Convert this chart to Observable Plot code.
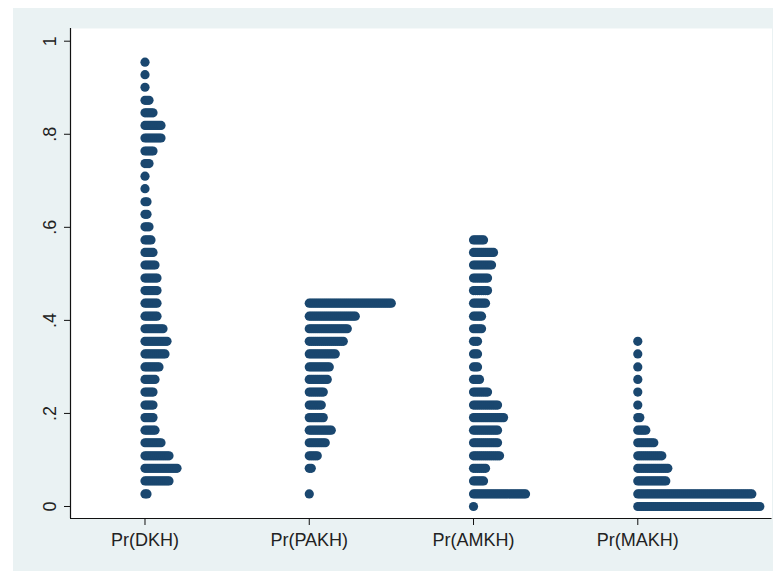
<!DOCTYPE html>
<html><head><meta charset="utf-8">
<script src="https://cdn.jsdelivr.net/npm/d3@7"></script>
<script src="https://cdn.jsdelivr.net/npm/@observablehq/plot@0.6"></script>
<style>
html,body{margin:0;padding:0;background:#fff;}
#wrap{position:absolute;left:13px;top:8px;width:760px;height:563px;background:#eaf2f3;}
</style></head><body><div id="wrap"></div>
<script>
const categories = ["Pr(DKH)", "Pr(PAKH)", "Pr(AMKH)", "Pr(MAKH)"];
const yTicks = [0, 0.2, 0.4, 0.6, 0.8, 1];
const yTickLabels = ["0", ".2", ".4", ".6", ".8", "1"];

// bin values (probability) and number of observations in each bin
const dkhValues = [0.027,0.055,0.082,0.109,0.137,0.164,0.191,0.218,0.246,0.273,0.300,0.328,0.355,0.382,0.409,0.437,0.464,0.491,0.519,0.546,0.573,0.601,0.628,0.655,0.683,0.710,0.737,0.764,0.792,0.819,0.846,0.873,0.901,0.928,0.955];
const dkhCounts = [2,13,17,13,9,6,5,5,5,6,8,11,12,10,7,7,7,7,6,5,4,3,2,2,1,1,3,5,9,9,5,3,1,1,1];

const pakhValues = [0.027,0.082,0.109,0.137,0.164,0.191,0.218,0.246,0.273,0.300,0.328,0.355,0.382,0.409,0.437];
const pakhCounts = [1,2,5,9,12,8,7,8,10,11,14,18,20,24,42];

const amkhValues = [0.000,0.027,0.055,0.082,0.109,0.137,0.164,0.191,0.218,0.246,0.273,0.300,0.328,0.355,0.382,0.409,0.437,0.464,0.491,0.519,0.546,0.573];
const amkhCounts = [1,27,6,7,14,13,13,16,13,8,4,3,3,3,5,5,7,8,8,10,11,6];

const makhValues = [0.000,0.027,0.055,0.082,0.109,0.137,0.164,0.191,0.218,0.246,0.273,0.300,0.328,0.355];
const makhCounts = [62,58,15,16,13,9,5,2,1,1,1,1,1,1];

const series = [
  [dkhValues, dkhCounts],
  [pakhValues, pakhCounts],
  [amkhValues, amkhCounts],
  [makhValues, makhCounts]
];

const xDomain = [0.5465, 4.817];
const yDomain = [-0.0258, 1.0273];
const step = 0.01218; // horizontal stacking offset of dots (x units)

const dots = [];
series.forEach(([vals, counts], ci) => {
  vals.forEach((v, k) => {
    for (let i = 0; i < counts[k]; i++) dots.push({x: ci + 1 + i * step, y: v});
  });
});

const chart = Plot.plot({
  width: 760, height: 563,
  marginLeft: 57, marginRight: 1.5, marginTop: 20, marginBottom: 53,
  style: {background: "transparent", fontFamily: "'Liberation Sans', Arial, sans-serif", color: "#222", overflow: "visible"},
  x: {domain: xDomain, axis: null},
  y: {domain: yDomain, axis: null},
  marks: [
    Plot.frame({fill: "white", stroke: null}),
    Plot.dot(dots, {x: "x", y: "y", r: 4.6, fill: "#1a476f", stroke: null}),
    Plot.ruleX([xDomain[0]], {stroke: "#111", strokeWidth: 1.2}),
    Plot.ruleY([yDomain[0]], {stroke: "#111", strokeWidth: 1.2}),
    Plot.axisX({ticks: [1, 2, 3, 4], tickFormat: d => categories[d - 1], tickSize: 7, tickPadding: 8, fontSize: 18, stroke: "#111", fill: "#222", label: null}),
    Plot.axisY({ticks: yTicks, tickFormat: d => yTickLabels[yTicks.indexOf(d)], tickSize: 6, tickPadding: 9, tickRotate: -90, fontSize: 18, stroke: "#111", fill: "#222", label: null})
  ]
});
document.getElementById("wrap").appendChild(chart);
</script></body></html>
